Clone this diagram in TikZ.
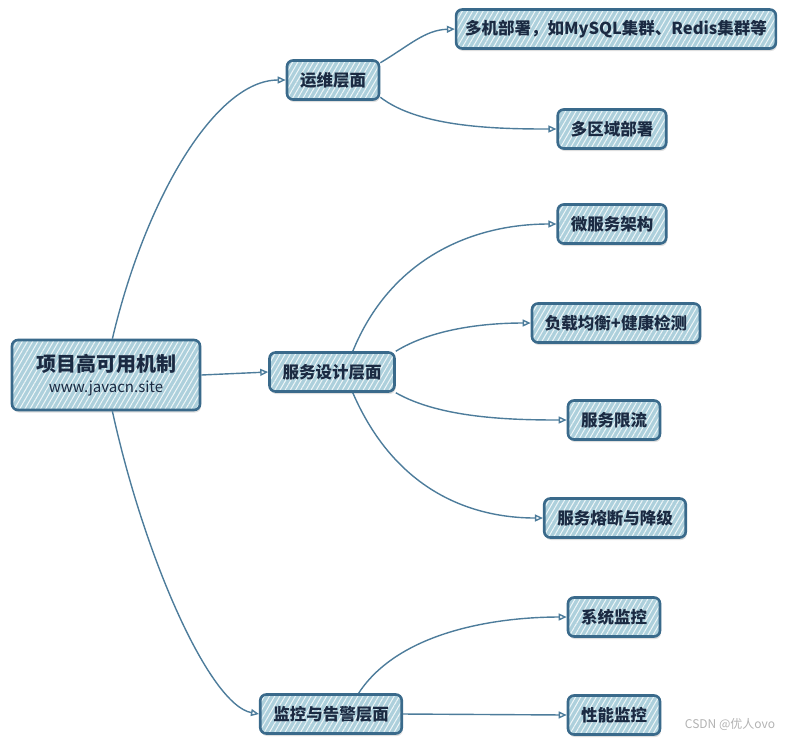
\documentclass[tikz,border=0pt]{standalone}
\usepackage{fontspec}
\setmainfont{Noto Sans CJK SC}
\usetikzlibrary{arrows.meta,patterns.meta,shadows}
\definecolor{boxfill}{HTML}{ADD0DC}
\definecolor{boxline}{HTML}{3A6A8B}
\definecolor{boxtext}{HTML}{1B2A42}
\definecolor{linkline}{HTML}{4D7C9B}

\begin{document}
\begin{tikzpicture}[x=1pt, y=-1pt,
    topic/.style={draw=boxline, line width=2.6pt, rounded corners=6pt,
      drop shadow={shadow xshift=1pt, shadow yshift=-2.5pt, opacity=0.25},
      preaction={fill=boxfill},
      preaction={pattern={Lines[angle=60,distance=4.5pt,line width=1pt]}, pattern color=white!80!boxfill},
      text=boxtext, font=\bfseries\fontsize{16.5}{19}\selectfont, inner xsep=13pt, minimum height=39pt},
    link/.style={draw=linkline, line width=1.4pt, -{Triangle[open, length=8pt, width=7pt]}}]
    \useasboundingbox (0,0) rectangle (791,740);

    \node (root) [topic, align=center, minimum width=188pt, minimum height=70pt] at (106,375)
      {{\fontsize{20}{24}\selectfont 项目高可用机制}\\[2pt]{\mdseries\fontsize{15}{18}\selectfont www.javacn.site}};
    \node (ops) [topic] at (333,80) {运维层面};
    \node (multi) [topic, inner xsep=9pt] at (616,29) {多机部署，如MySQL集群、Redis集群等};
    \node (region) [topic] at (612,129) {多区域部署};
    \node (svc) [topic] at (332,372) {服务设计层面};
    \node (micro) [topic] at (612,224) {微服务架构};
    \node (lb) [topic] at (616,323) {负载均衡+健康检测};
    \node (limit) [topic] at (614,420) {服务限流};
    \node (fuse) [topic] at (615,518) {服务熔断与降级};
    \node (sysmon) [topic] at (614,617) {系统监控};
    \node (mon) [topic] at (331,714) {监控与告警层面};
    \node (perf) [topic] at (614,715) {性能监控};
    \node (mark) [text=gray!60, font=\fontsize{12}{14}\selectfont] at (730,724) {CSDN @优人ovo};

    % first level
    \draw [link] (root.80) .. controls (145,200) and (215,80) .. (ops.west);
    \draw [link] (root.east) -- (svc.west);
    \draw [link] (root.-80) .. controls (145,560) and (210,705) .. (mon.west);

    % second level
    \draw [link] (ops.20) .. controls (410,45) and (425,30) .. (multi.west);
    \draw [link] (ops.-20) .. controls (420,128) and (500,129) .. (region.west);
    \draw [link] (svc.45) .. controls (390,260) and (470,224) .. (micro.west);
    \draw [link] (svc.18) .. controls (430,330) and (480,323) .. (lb.west);
    \draw [link] (svc.-18) .. controls (440,418) and (510,420) .. (limit.west);
    \draw [link] (svc.-45) .. controls (395,490) and (470,518) .. (fuse.west);
    \draw [link] (mon.37) .. controls (400,630) and (500,617) .. (sysmon.west);
    \draw [link] (mon.east) -- (perf.west);
\end{tikzpicture}
\end{document}
